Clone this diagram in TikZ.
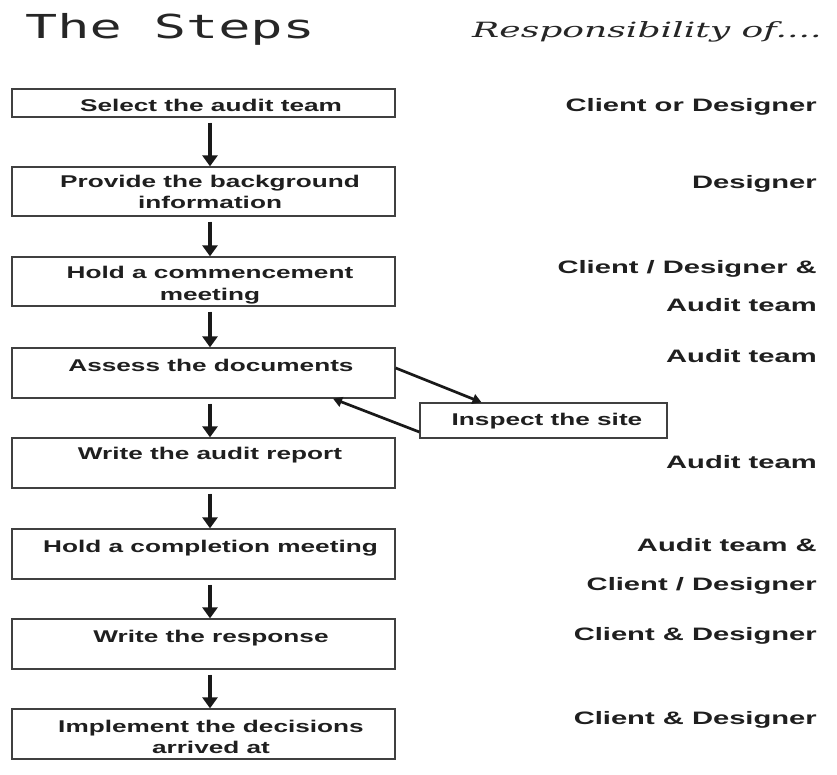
\documentclass[tikz,border=0pt]{standalone}
\usepackage{fontspec}
\setmainfont{Liberation Sans}
\newfontfamily\monof{DejaVu Sans Mono}
\newfontfamily\handf{DejaVu Serif}
\usetikzlibrary{arrows.meta}
\newcommand{\wx}[2]{\scalebox{#1}[1]{#2}}
\tikzset{
  stepbox/.style={draw=black!75, line width=1.3pt, minimum width=383pt, inner sep=0pt},
  boxtxt/.style={anchor=base, inner sep=0pt, text=black!88, font=\fontsize{17}{20}\selectfont\bfseries},
  resp/.style={anchor=base east, inner sep=0pt, text=black!88, font=\fontsize{18}{21}\selectfont\bfseries},
  flow/.style={line width=4pt, -{Triangle[width=15pt,length=11pt]}, draw=black!90, fill=black!90},
  side/.style={line width=2.7pt, -{Triangle[width=10pt,length=9pt]}, draw=black!90, fill=black!90},
}
\begin{document}
\begin{tikzpicture}[x=1pt, y=-1pt]
\useasboundingbox[fill=white] (0,0) rectangle (837,775);

% headings
\node[anchor=base west, inner sep=0pt, text=black!85, font=\fontsize{33}{36}\selectfont\monof] (title) at (25,39) {\wx{1.62}{The Steps}};
\node[anchor=base west, inner sep=0pt, text=black!85, font=\fontsize{21}{24}\selectfont\handf\itshape] (resph) at (472,38) {\wx{1.72}{Responsibility of....}};

% boxes
\node[stepbox, minimum height=28pt] (b1) at (203.5,103) {};
\node[stepbox, minimum height=49pt] (b2) at (203.5,191.5) {};
\node[stepbox, minimum height=49pt] (b3) at (203.5,281.5) {};
\node[stepbox, minimum height=50pt] (b4) at (203.5,373) {};
\node[stepbox, minimum height=50pt] (b5) at (203.5,463) {};
\node[stepbox, minimum height=50pt] (b6) at (203.5,554) {};
\node[stepbox, minimum height=50pt] (b7) at (203.5,644) {};
\node[stepbox, minimum height=50pt] (b8) at (203.5,734) {};
\node[stepbox, minimum width=247pt, minimum height=35pt] (ins) at (543.5,420.5) {};

% box texts
\node[boxtxt] (t1) at (211,112) {\wx{1.54}{Select the audit team}};
\node[boxtxt] (t2a) at (210,188) {\wx{1.54}{Provide the background}};
\node[boxtxt] (t2b) at (210,209) {\wx{1.54}{information}};
\node[boxtxt] (t3a) at (210,279) {\wx{1.54}{Hold a commencement}};
\node[boxtxt] (t3b) at (210,301) {\wx{1.54}{meeting}};
\node[boxtxt] (t4) at (211,371) {\wx{1.54}{Assess the documents}};
\node[boxtxt] (t5) at (210,459) {\wx{1.54}{Write the audit report}};
\node[boxtxt] (t6) at (210.5,552) {\wx{1.54}{Hold a completion meeting}};
\node[boxtxt] (t7) at (211,642) {\wx{1.54}{Write the response}};
\node[boxtxt] (t8a) at (211,732) {\wx{1.54}{Implement the decisions}};
\node[boxtxt] (t8b) at (211,753) {\wx{1.54}{arrived at}};
\node[boxtxt] (tins) at (547,425) {\wx{1.54}{Inspect the site}};

% responsibilities
\node[resp] (r1) at (817,112) {\wx{1.62}{Client or Designer}};
\node[resp] (r2) at (817,189) {\wx{1.62}{Designer}};
\node[resp] (r3a) at (817,274) {\wx{1.62}{Client / Designer \&}};
\node[resp] (r3b) at (817,312) {\wx{1.62}{Audit team}};
\node[resp] (r4) at (817,362) {\wx{1.62}{Audit team}};
\node[resp] (r5) at (817,468) {\wx{1.62}{Audit team}};
\node[resp] (r6a) at (817,551) {\wx{1.62}{Audit team \&}};
\node[resp] (r6b) at (817,590) {\wx{1.62}{Client / Designer}};
\node[resp] (r7) at (817,640) {\wx{1.62}{Client \& Designer}};
\node[resp] (r8) at (817,724) {\wx{1.62}{Client \& Designer}};

% flow arrows
\draw[flow] ([xshift=6.5pt,yshift=-5pt]b1.south) -- ([xshift=6.5pt]b2.north);
\draw[flow] ([xshift=6.5pt,yshift=-5pt]b2.south) -- ([xshift=6.5pt]b3.north);
\draw[flow] ([xshift=6.5pt,yshift=-5pt]b3.south) -- ([xshift=6.5pt]b4.north);
\draw[flow] ([xshift=6.5pt,yshift=-5pt]b4.south) -- ([xshift=6.5pt]b5.north);
\draw[flow] ([xshift=6.5pt,yshift=-5pt]b5.south) -- ([xshift=6.5pt]b6.north);
\draw[flow] ([xshift=6.5pt,yshift=-5pt]b6.south) -- ([xshift=6.5pt]b7.north);
\draw[flow] ([xshift=6.5pt,yshift=-5pt]b7.south) -- ([xshift=6.5pt]b8.north);

% side loop
\draw[side] ([yshift=5pt]b4.east) -- ([xshift=-62pt]ins.north);
\draw[side] ([yshift=-11.5pt]ins.west) -- ([xshift=129.5pt]b4.south);
\end{tikzpicture}
\end{document}
